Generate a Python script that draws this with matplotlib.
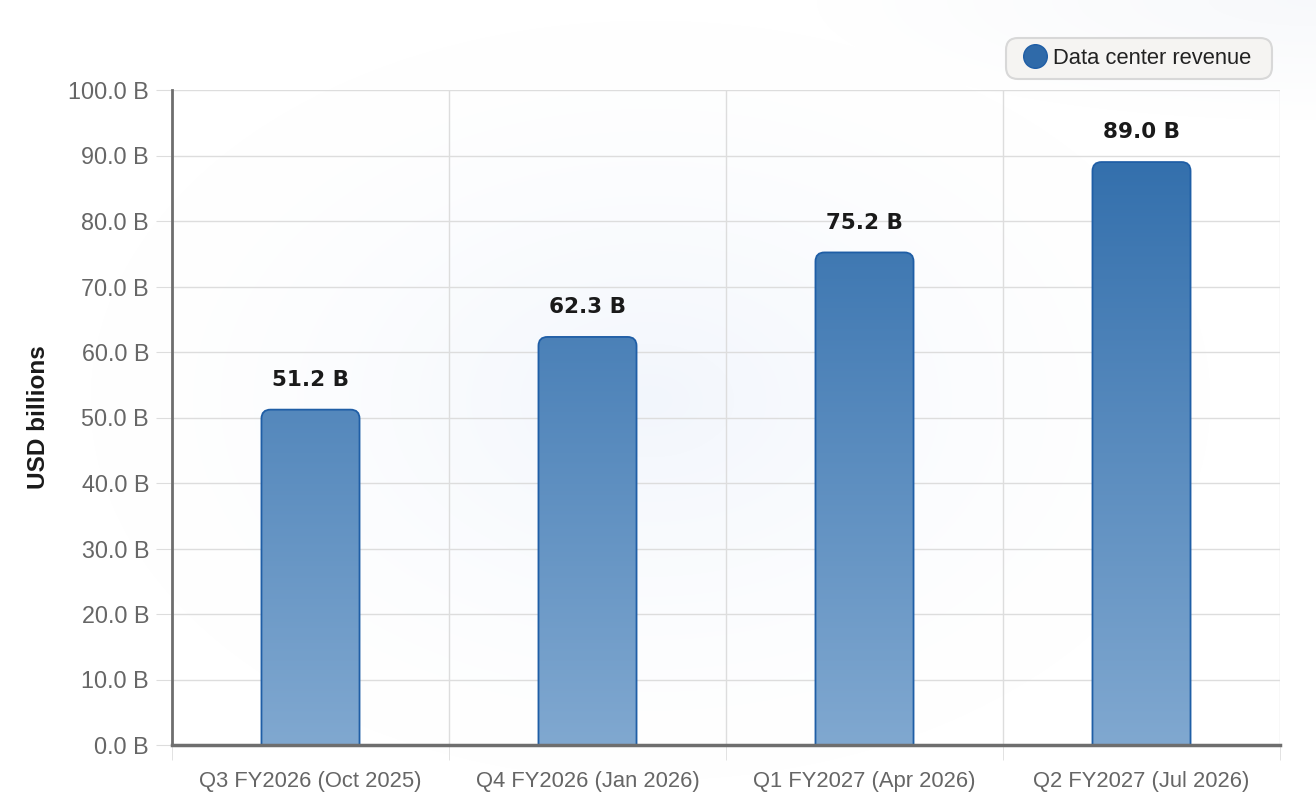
import numpy as np
import matplotlib.pyplot as plt
from matplotlib.patches import FancyBboxPatch
from matplotlib.colors import LinearSegmentedColormap
from matplotlib.lines import Line2D

plt.rcParams['font.family'] = ['Liberation Sans', 'DejaVu Sans']

# data
quarters = ["Q3 FY2026 (Oct 2025)", "Q4 FY2026 (Jan 2026)",
            "Q1 FY2027 (Apr 2026)", "Q2 FY2027 (Jul 2026)"]
revenue = [51.2, 62.3, 75.2, 89.0]
y_ticks = [0, 10, 20, 30, 40, 50, 60, 70, 80, 90, 100]

fig = plt.figure(figsize=(13.16, 8.08), dpi=100)

# soft radial background glow
bg = fig.add_axes([0, 0, 1, 1], zorder=-10)
bg.axis('off')
yy, xx = np.mgrid[0:808, 0:1316]
r = np.sqrt(((xx - 650) / 560.0) ** 2 + ((yy - 400) / 380.0) ** 2)
glow = np.clip(1 - r, 0, 1) ** 1.5
r2 = np.sqrt(((xx - 1316) / 500.0) ** 2 + ((yy - 0) / 120.0) ** 2)
corner = np.clip(1 - r2, 0, 1)
img = np.ones((808, 1316, 3))
img[..., 0] -= glow * 0.05 + corner * 0.03
img[..., 1] -= glow * 0.035 + corner * 0.025
img[..., 2] -= glow * 0.01 + corner * 0.015
bg.imshow(img, extent=[0, 1316, 0, 808], aspect='auto', origin='upper')
bg.set_xlim(0, 1316)
bg.set_ylim(0, 808)

# legend frame (drawn by hand, in pixels)
bg.add_patch(FancyBboxPatch((1006, 808 - 79), 266, 41,
                            boxstyle="round,pad=0,rounding_size=12",
                            facecolor='#f5f4f2', edgecolor='#d8d8d8',
                            linewidth=1.5, zorder=5))

ax = fig.add_axes([172 / 1316, 63 / 808, 1108 / 1316, 655 / 808])
ax.patch.set_alpha(0)
ax.set_xlim(-0.5, len(quarters) - 0.5)
ax.set_ylim(0, 100)

x = np.arange(len(quarters))
bars = ax.bar(x, revenue, width=0.354, color='none', edgecolor='none')

cmap = LinearSegmentedColormap.from_list('bars', ['#80a8d0', '#3470ad'])
grad = np.linspace(0, 1, 256).reshape(-1, 1) * (100 / 89.0)
grad = np.clip(grad, 0, 1)

# x units per px vs y units per px
aspect = (100 / 655.0) / (4 / 1108.0)
rad = 9 / 277.0
for b in bars:
    x0, w, h = b.get_x(), b.get_width(), b.get_height()
    pad = rad * aspect
    patch = FancyBboxPatch((x0, -pad), w, h + pad,
                           boxstyle="round,pad=0,rounding_size=%f" % rad,
                           mutation_aspect=aspect,
                           facecolor='none', edgecolor='#1f5ea6', linewidth=1.3,
                           zorder=3)
    ax.add_patch(patch)
    im = ax.imshow(grad, extent=[x0, x0 + w, 0, 100], origin='lower',
                   cmap=cmap, vmin=0, vmax=1, aspect='auto', zorder=2)
    im.set_clip_path(patch)
    ax.text(b.get_x() + w / 2, h + 3.0, "%.1f B" % h, ha='center', va='bottom',
            fontsize=15.5, fontweight='bold', family='DejaVu Sans', color='#1a1a1a')

ax.set_xlim(-0.5, len(quarters) - 0.5)
ax.set_ylim(0, 100)

# grid
ax.set_yticks(y_ticks)
ax.set_yticklabels(["%.1f B" % v for v in y_ticks])
ax.set_xticks(x)
ax.set_xticklabels(quarters)
ax.set_xticks(np.arange(len(quarters) + 1) - 0.5, minor=True)
ax.grid(True, axis='y', color='#dddddd', linewidth=1.0, zorder=0)
ax.grid(True, axis='x', which='minor', color='#dddddd', linewidth=1.0, zorder=0)
ax.tick_params(axis='y', length=11.5, color='#dddddd', labelsize=16.8,
               labelcolor='#666666', pad=5)
ax.tick_params(axis='x', which='major', length=0, labelsize=15.8,
               labelcolor='#666666', pad=18.5)
ax.tick_params(axis='x', which='minor', length=11, color='#dddddd')
ax.set_axisbelow(True)

for s in ['top', 'right']:
    ax.spines[s].set_visible(False)
ax.spines['left'].set_color('#6e6e6e')
ax.spines['left'].set_linewidth(2)
ax.spines['bottom'].set_color('#6e6e6e')
ax.spines['bottom'].set_linewidth(2.5)
ax.spines['left'].set_zorder(4)
ax.spines['bottom'].set_zorder(4)

ax.set_ylabel("USD billions", fontsize=17.5, fontweight='bold', color='#1a1a1a',
              labelpad=13)

handle = Line2D([], [], marker='o', linestyle='none', markersize=17,
                markerfacecolor='#2f6aa9', markeredgecolor='#1f5ea6')
leg = ax.legend([handle], ["Data center revenue"], loc='center left',
                bbox_to_anchor=((1006 + 10 - 172) / 1108, 1.0 + (90 - 58.5) / 655),
                fontsize=15.8, frameon=False, handletextpad=0.0,
                borderpad=0, borderaxespad=0, handlelength=1.7,
                labelcolor='#222222')

fig.savefig("out.png", dpi=100)
